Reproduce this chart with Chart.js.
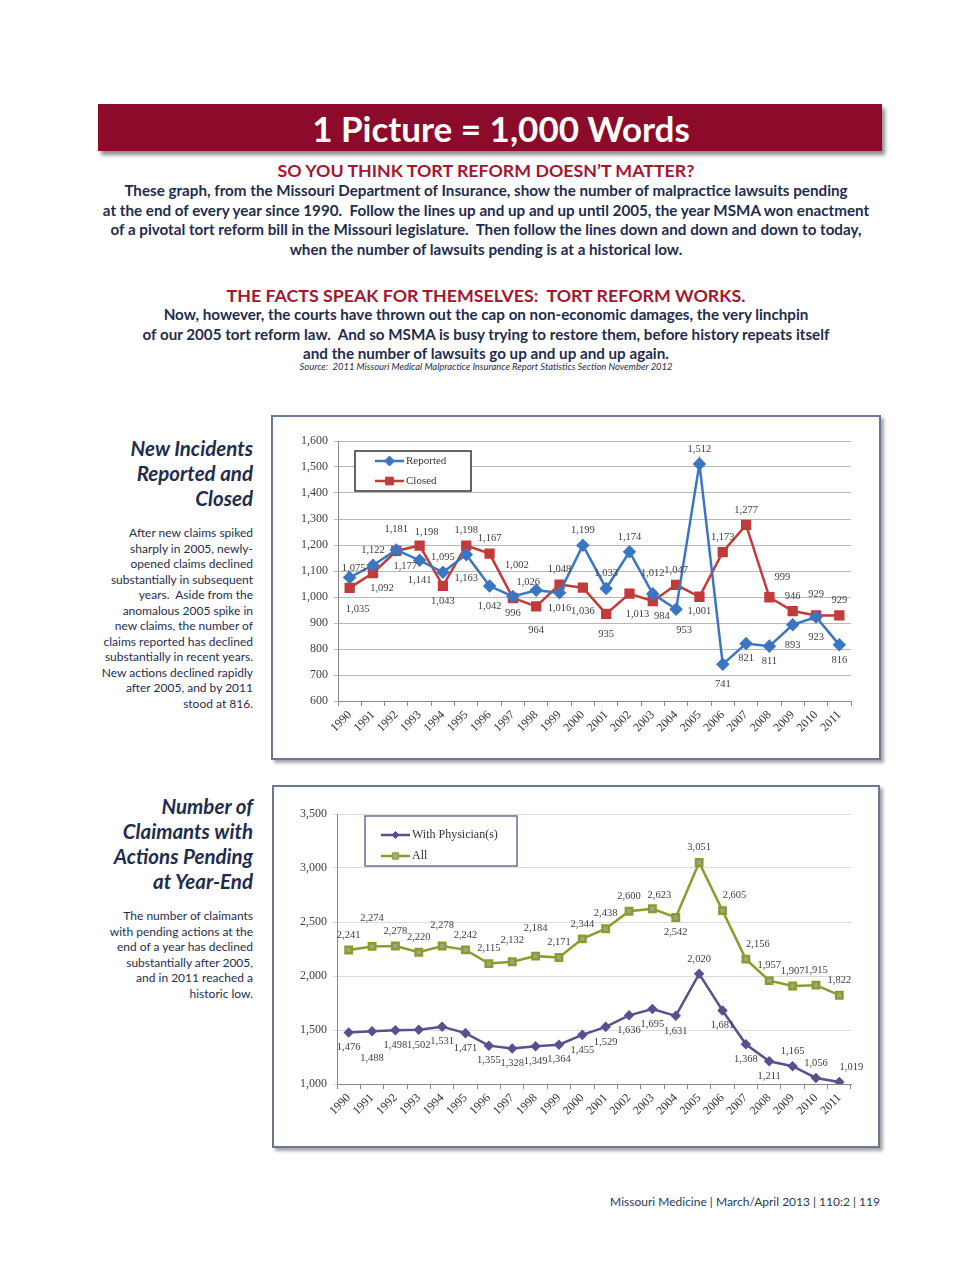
<!DOCTYPE html>
<html>
<head>
<meta charset="utf-8">
<script src="https://cdn.jsdelivr.net/npm/chart.js@4.4.1/dist/chart.umd.min.js"></script>
<style>
body { margin: 0; background: #fff; font-family: Lato, "Open Sans", sans-serif; color: #1f2d4d; }
#page { position: relative; width: 960px; height: 1265px; overflow: hidden; }
.banner { position: absolute; left: 98px; top: 104px; width: 762px; padding-left: 22px; height: 47px; background: #8c0b2b;
  box-shadow: 3px 4px 4px rgba(0,0,0,.45); color: #fff; font-weight: bold; font-size: 35px; text-align: center; line-height: 48px; }
.h { position: absolute; left: 6px; width: 960px; text-align: center; color: #a3172f; font-weight: bold; font-size: 17.8px; line-height: 20px; }
.p { position: absolute; left: 6px; width: 960px; text-align: center; font-weight: bold; font-size: 15.2px; line-height: 19.5px; }
.src { position: absolute; left: 6px; width: 960px; text-align: center; font-style: italic; font-size: 9.4px; line-height: 10px; }
.side { position: absolute; left: 40px; width: 213px; text-align: right; }
.side .t { font-weight: bold; font-style: italic; font-size: 20.5px; line-height: 25px; }
.side .b { font-size: 12px; line-height: 15.5px; }
.box { position: absolute; border: 2px solid #6b7794; background: #fff; box-shadow: 3px 3px 3px rgba(0,0,0,.35); }
.box div { position: absolute; left: 0; top: 0; width: 100%; height: 100%; }
.foot { position: absolute; right: 80px; top: 1194px; font-size: 12px; color: #2a3a5a; }
</style>
</head>
<body>
<div id="page">
  <div class="banner">1 Picture = 1,000 Words</div>
  <div class="h" style="top:160px">SO YOU THINK TORT REFORM DOESN’T MATTER?</div>
  <div class="p" style="top:181px">These graph, from the Missouri Department of Insurance, show the number of malpractice lawsuits pending<br>at the end of every year since 1990.&nbsp; Follow the lines up and up and up until 2005, the year MSMA won enactment<br>of a pivotal tort reform bill in the Missouri legislature.&nbsp; Then follow the lines down and down and down to today,<br>when the number of lawsuits pending is at a historical low.</div>
  <div class="h" style="top:285px">THE FACTS SPEAK FOR THEMSELVES:&nbsp; TORT REFORM WORKS.</div>
  <div class="p" style="top:305px">Now, however, the courts have thrown out the cap on non-economic damages, the very linchpin<br>of our 2005 tort reform law.&nbsp; And so MSMA is busy trying to restore them, before history repeats itself<br>and the number of lawsuits go up and up and up again.</div>
  <div class="src" style="top:362px">Source:&nbsp; 2011 Missouri Medical Malpractice Insurance Report Statistics Section November 2012</div>

  <div class="side" style="top:436px">
    <div class="t">New Incidents<br>Reported and<br>Closed</div>
    <div class="b" style="margin-top:14px">After new claims spiked<br>sharply in 2005, newly-<br>opened claims declined<br>substantially in subsequent<br>years.&nbsp; Aside from the<br>anomalous 2005 spike in<br>new claims, the number of<br>claims reported has declined<br>substantially in recent years.<br>New actions declined rapidly<br>after 2005, and by 2011<br>stood at 816.</div>
  </div>
  <div class="side" style="top:794px">
    <div class="t">Number of<br>Claimants with<br>Actions Pending<br>at Year-End</div>
    <div class="b" style="margin-top:14px">The number of claimants<br>with pending actions at the<br>end of a year has declined<br>substantially after 2005,<br>and in 2011 reached a<br>historic low.</div>
  </div>

  <div class="box" style="left:271px;top:415px;width:606px;height:341px"><div><canvas id="incidents"></canvas></div></div>
  <div class="box" style="left:272px;top:785px;width:604px;height:359px"><div><canvas id="pending"></canvas></div></div>

  <div class="foot">Missouri Medicine | March/April 2013 | 110:2 | 119</div>
</div>

<script>
const years = ["1990", "1991", "1992", "1993", "1994", "1995", "1996", "1997", "1998", "1999", "2000",
  "2001", "2002", "2003", "2004", "2005", "2006", "2007", "2008", "2009", "2010", "2011"];

const reported = [1075, 1122, 1181, 1141, 1095, 1163, 1042, 1002, 1026, 1016, 1199,
  1033, 1174, 1012, 953, 1512, 741, 821, 811, 893, 923, 816];
const closed = [1035, 1092, 1177, 1198, 1043, 1198, 1167, 996, 964, 1048, 1036,
  935, 1013, 984, 1047, 1001, 1173, 1277, 999, 946, 929, 929];

const withPhysician = [1476, 1488, 1498, 1502, 1531, 1471, 1355, 1328, 1349, 1364, 1455,
  1529, 1636, 1695, 1631, 2020, 1681, 1368, 1211, 1165, 1056, 1019];
const allClaimants = [2241, 2274, 2278, 2220, 2278, 2242, 2115, 2132, 2184, 2171, 2344,
  2438, 2600, 2623, 2542, 3051, 2605, 2156, 1957, 1907, 1915, 1822];

// where each value label sits relative to its point
const offsets = {
  a: [0, -15], A: [0, -21], Z: [0, -28], AA: [4, -31], n: [4, -9], al: [-8, -8],
  ar: [7, -13], Ar: [13, -20], arr: [12, -15],
  b: [0, 15], br: [9, 15], B: [0, 20], Br: [8, 21], BB: [0, 24], C: [0, 27]
};
const reportedSides = ["n", "a", "A", "B", "a", "BB", "B", "AA", "al", "b", "a",
  "a", "a", "A", "Br", "a", "B", "b", "b", "B", "B", "b"];
const closedSides = ["Br", "br", "br", "ar", "b", "a", "a", "b", "BB", "a", "BB",
  "B", "Br", "br", "a", "b", "a", "a", "Ar", "a", "A", "a"];
const physicianSides = ["b", "C", "b", "b", "b", "b", "b", "b", "b", "b", "b",
  "b", "b", "b", "b", "a", "b", "b", "b", "a", "a", "arr"];
const allSides = ["a", "Z", "a", "a", "A", "a", "a", "A", "Z", "a", "a",
  "a", "a", "ar", "b", "a", "arr", "arr", "a", "a", "a", "a"];

const serif = "'Liberation Serif', 'DejaVu Serif', serif";

const valueLabels = {
  id: "valueLabels",
  afterDatasetsDraw(chart) {
    const ctx = chart.ctx;
    ctx.save();
    ctx.font = "10.5px " + serif;
    ctx.fillStyle = "#404040";
    ctx.textAlign = "center";
    ctx.textBaseline = "middle";
    chart.data.datasets.forEach((ds, i) => {
      chart.getDatasetMeta(i).data.forEach((pt, j) => {
        const o = offsets[ds.sides[j]];
        ctx.fillText(ds.data[j].toLocaleString("en-US"), pt.x + o[0], pt.y + o[1]);
      });
    });
    ctx.restore();
  }
};

const boxLegend = {
  id: "boxLegend",
  afterDraw(chart, args, opts) {
    const ctx = chart.ctx;
    const a = chart.chartArea;
    const x = a.left + opts.x, y = a.top + opts.y;
    ctx.save();
    ctx.fillStyle = "#fff";
    ctx.fillRect(x, y, opts.w, opts.h);
    ctx.strokeStyle = opts.border;
    ctx.lineWidth = 1.5;
    ctx.strokeRect(x, y, opts.w, opts.h);
    ctx.font = opts.size + "px " + serif;
    ctx.textBaseline = "middle";
    chart.data.datasets.forEach((ds, i) => {
      const ly = y + opts.first + i * opts.gap;
      ctx.strokeStyle = ds.borderColor;
      ctx.lineWidth = ds.borderWidth;
      ctx.beginPath();
      ctx.moveTo(x + opts.lx, ly);
      ctx.lineTo(x + opts.lx + 29, ly);
      ctx.stroke();
      ctx.fillStyle = ds.pointBackgroundColor;
      ctx.strokeStyle = ds.pointBorderColor;
      ctx.lineWidth = 1;
      Chart.helpers.drawPoint(ctx, { pointStyle: ds.pointStyle, rotation: 0, radius: ds.pointRadius, borderWidth: 1 },
        x + opts.lx + 14.5, ly);
      ctx.fillStyle = "#333";
      ctx.fillText(ds.label, x + opts.lx + 31, ly);
    });
    ctx.restore();
  }
};

function makeChart(id, datasets, yMin, yMax, step, gridColor, pad, yWidth, xHeight, legend) {
  return new Chart(document.getElementById(id), {
    type: "line",
    data: { labels: years, datasets: datasets },
    plugins: [valueLabels, boxLegend],
    options: {
      responsive: true,
      maintainAspectRatio: false,
      animation: false,
      layout: { padding: pad },
      plugins: { legend: { display: false }, tooltip: { enabled: false }, boxLegend: legend },
      scales: {
        x: {
          offset: true,
          grid: { offset: true, drawOnChartArea: false, drawTicks: true, tickLength: 5, color: "#888" },
          border: { color: "#888" },
          ticks: { autoSkip: false, minRotation: 45, maxRotation: 45, color: "#333",
            font: { family: serif, size: 12 }, padding: 2 },
          afterFit: (s) => { s.height = xHeight; }
        },
        y: {
          min: yMin,
          max: yMax,
          ticks: { stepSize: step, color: "#404040", font: { family: serif, size: 12 }, padding: 6 },
          grid: { color: gridColor, lineWidth: 1, tickLength: 4 },
          border: { color: "#888" },
          afterFit: (s) => { s.width = yWidth; }
        }
      }
    }
  });
}

makeChart("incidents", [
  { label: "Reported", data: reported, sides: reportedSides, borderColor: "#3b76c2", borderWidth: 2.5,
    pointStyle: "rectRot", pointRadius: 5, pointBackgroundColor: "#3b76c2", pointBorderColor: "#3b76c2", tension: 0 },
  { label: "Closed", data: closed, sides: closedSides, borderColor: "#c23b3b", borderWidth: 2.5,
    pointStyle: "rect", pointRadius: 5.5, pointBackgroundColor: "#c23b3b", pointBorderColor: "#c23b3b", tension: 0 }
], 600, 1600, 100, "#b8b8b8", { left: 0, right: 28, top: 24, bottom: 0 }, 65, 57,
  { x: 17, y: 10, w: 116, h: 40, first: 10, gap: 20, lx: 20, size: 11, border: "#333" });

makeChart("pending", [
  { label: "With Physician(s)", data: withPhysician, sides: physicianSides, borderColor: "#5a4f8f", borderWidth: 2.5,
    pointStyle: "rectRot", pointRadius: 3.5, pointBackgroundColor: "#5a4f8f", pointBorderColor: "#5a4f8f", tension: 0 },
  { label: "All", data: allClaimants, sides: allSides, borderColor: "#8c9c2c", borderWidth: 2.5,
    pointStyle: "rect", pointRadius: 4.5, pointBackgroundColor: "#a3a394", pointBorderColor: "#8c9c2c", tension: 0 }
], 1000, 3500, 500, "#dcdcdc", { left: 0, right: 27, top: 27, bottom: 0 }, 63, 62,
  { x: 28, y: 2, w: 152, h: 50, first: 19, gap: 21, lx: 16, size: 12, border: "#6b6b9b" });
</script>
</body>
</html>
